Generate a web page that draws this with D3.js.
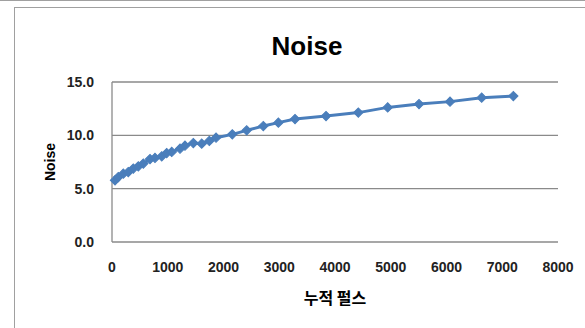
<!DOCTYPE html>
<html>
<head>
<meta charset="utf-8">
<script src="https://cdn.jsdelivr.net/npm/d3@7"></script>
<style>
  body { margin: 0; background: #fff; }
  text { font-family: "Liberation Sans", Arial, sans-serif; }
</style>
</head>
<body>
<div id="chart"></div>
<script>
// Data
const pulses = [54, 113, 203, 292, 382, 472, 562, 682, 771, 892, 981, 1071, 1220, 1309, 1459,
    1609, 1746, 1866, 2158, 2416, 2714, 2984, 3283, 3839, 4418, 4945, 5507, 6063, 6631, 7199];
const noise = [5.78, 6.09, 6.41, 6.56, 6.88, 7.09, 7.35, 7.78, 7.88, 8.03, 8.34, 8.44, 8.75, 9.03, 9.28,
    9.22, 9.47, 9.78, 10.09, 10.47, 10.87, 11.19, 11.53, 11.81, 12.13, 12.62, 12.93, 13.16, 13.53, 13.68];
const xTicks = [0, 1000, 2000, 3000, 4000, 5000, 6000, 7000, 8000];
const yTicks = [0, 5, 10, 15];

const width = 585;
const height = 328;
const margin = {top: 82, right: 27, bottom: 86, left: 112};

const svg = d3.select("#chart")
    .append("svg")
    .attr("width", width)
    .attr("height", height);

// Outer frame (chart border)
svg.append("line")
    .attr("x1", 0).attr("x2", width)
    .attr("y1", 0.5).attr("y2", 0.5)
    .attr("stroke", "#a0a0a0")
    .attr("stroke-width", 1);
svg.append("rect")
    .attr("x", 14.5).attr("y", 7.5)
    .attr("width", width).attr("height", height)
    .attr("fill", "none")
    .attr("stroke", "#a0a0a0")
    .attr("stroke-width", 1);

const x = d3.scaleLinear()
    .domain([0, 8000])
    .range([margin.left, width - margin.right]);

const y = d3.scaleLinear()
    .domain([0, 15])
    .range([height - margin.bottom, margin.top]);

// Gridlines
svg.append("g")
    .selectAll("line")
    .data(yTicks)
    .enter().append("line")
    .attr("x1", x(0))
    .attr("x2", x(8000))
    .attr("y1", d => y(d))
    .attr("y2", d => y(d))
    .attr("stroke", "#8a8a8a")
    .attr("stroke-width", 1.3);

// Left axis line
svg.append("line")
    .attr("x1", x(0)).attr("x2", x(0))
    .attr("y1", y(15)).attr("y2", y(0))
    .attr("stroke", "#8a8a8a")
    .attr("stroke-width", 1.3);

// Y tick labels
svg.append("g")
    .selectAll("text")
    .data(yTicks)
    .enter().append("text")
    .attr("x", x(0) - 18)
    .attr("y", d => y(d))
    .attr("dy", "0.36em")
    .attr("text-anchor", "end")
    .style("font-size", "14px")
    .style("font-weight", "bold")
    .attr("fill", "#222")
    .text(d => d3.format(".1f")(d));

// X tick labels
svg.append("g")
    .selectAll("text")
    .data(xTicks)
    .enter().append("text")
    .attr("x", d => x(d))
    .attr("y", y(0) + 30)
    .attr("text-anchor", "middle")
    .style("font-size", "14px")
    .style("font-weight", "bold")
    .attr("fill", "#222")
    .text(d => d);

// Line
const points = pulses.map((p, i) => [p, noise[i]]);
const line = d3.line()
    .x(d => x(d[0]))
    .y(d => y(d[1]));

svg.append("path")
    .datum(points)
    .attr("d", line)
    .attr("fill", "none")
    .attr("stroke", "#4a7ebb")
    .attr("stroke-width", 3)
    .attr("stroke-linejoin", "round");

// Diamond markers
svg.append("g")
    .selectAll("path")
    .data(points)
    .enter().append("path")
    .attr("transform", d => `translate(${x(d[0])},${y(d[1])}) rotate(45)`)
    .attr("d", "M-3.3,-3.3H3.3V3.3H-3.3Z")
    .attr("fill", "#4a7ebb")
    .attr("stroke", "#4a7ebb")
    .attr("stroke-width", 1);

// Title
svg.append("text")
    .attr("x", 307)
    .attr("y", 55)
    .attr("text-anchor", "middle")
    .style("font-size", "26px")
    .style("font-weight", "bold")
    .attr("fill", "#000")
    .text("Noise");

// Axis titles
svg.append("text")
    .attr("x", (x(0) + x(8000)) / 2)
    .attr("y", 304)
    .attr("text-anchor", "middle")
    .style("font-family", "'Noto Sans CJK KR', sans-serif")
    .style("font-size", "16px")
    .style("font-weight", "bold")
    .attr("fill", "#000")
    .text("누적 펄스");

svg.append("text")
    .attr("transform", `translate(55, ${(y(0) + y(15)) / 2}) rotate(-90)`)
    .attr("text-anchor", "middle")
    .style("font-size", "14px")
    .style("font-weight", "bold")
    .attr("fill", "#000")
    .text("Noise");
</script>
</body>
</html>
